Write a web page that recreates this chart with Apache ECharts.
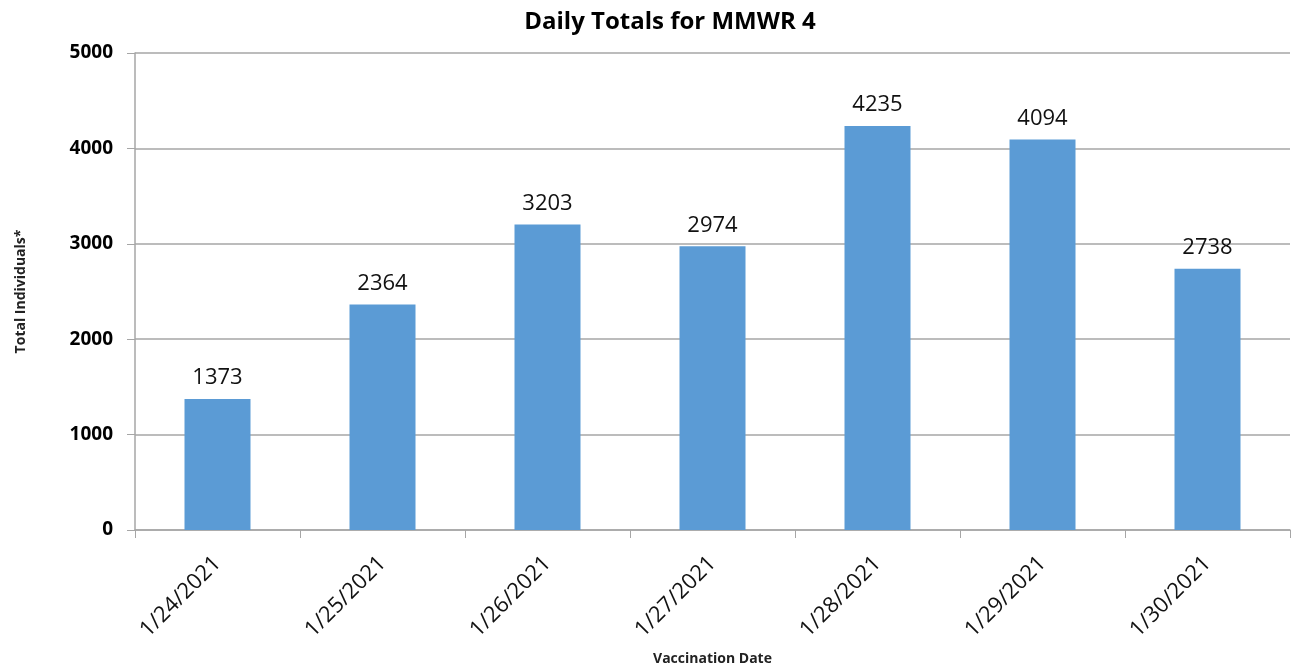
<!DOCTYPE html>
<html><head><meta charset="utf-8">
<script src="https://cdn.jsdelivr.net/npm/echarts@6/dist/echarts.min.js"></script>
<style>html,body{margin:0;padding:0;background:#fff}#c{width:1291px;height:671px}</style>
</head><body><div id="c"></div>
<script>
const categories = ['1/24/2021','1/25/2021','1/26/2021','1/27/2021','1/28/2021','1/29/2021','1/30/2021'];
const totals = [1373, 2364, 3203, 2974, 4235, 4094, 2738];
const yTicks = {min: 0, max: 5000, interval: 1000};
const chart = echarts.init(document.getElementById('c'));
const F = '"Open Sans", "Noto Sans", sans-serif';
chart.setOption({
  animation: false,
  title: {text: 'Daily Totals for MMWR 4', left: 665, top: 5, textAlign: 'center',
    textStyle: {fontFamily: F, fontSize: 24, fontWeight: 'bold', color: '#000'}},
  grid: {left: 135, right: 1, top: 53, bottom: 140, containLabel: false},
  xAxis: {type: 'category', data: categories,
    name: 'Vaccination Date', nameLocation: 'middle', nameGap: 122,
    nameTextStyle: {fontFamily: F, fontSize: 14, fontWeight: 'bold', color: '#222'},
    axisLine: {lineStyle: {color: '#a6a6a6', width: 1.5}},
    axisTick: {show: true, length: 8, alignWithLabel: false, lineStyle: {color: '#a6a6a6'}},
    axisLabel: {rotate: 45, fontFamily: F, fontSize: 22, color: '#111', margin: 30}},
  yAxis: {type: 'value', min: yTicks.min, max: yTicks.max, interval: yTicks.interval,
    name: 'Total Individuals*', nameLocation: 'middle', nameGap: 107, nameRotate: 90,
    nameTextStyle: {fontFamily: F, fontSize: 14, fontWeight: 'bold', color: '#222'},
    axisLine: {show: true, lineStyle: {color: '#a6a6a6', width: 1.5}},
    axisTick: {show: true, length: 8, lineStyle: {color: '#a6a6a6'}},
    splitLine: {lineStyle: {color: '#a6a6a6', width: 1.5}},
    axisLabel: {fontFamily: F, fontSize: 19, fontWeight: 'bold', color: '#000', margin: 22,
      formatter: v => String(v)}},
  series: [{type: 'bar', data: totals, barCategoryGap: '60%',
    itemStyle: {color: '#5b9bd5'},
    label: {show: true, position: 'top', distance: 10, fontFamily: F, fontSize: 22, color: '#111'}}]
});
</script></body></html>
